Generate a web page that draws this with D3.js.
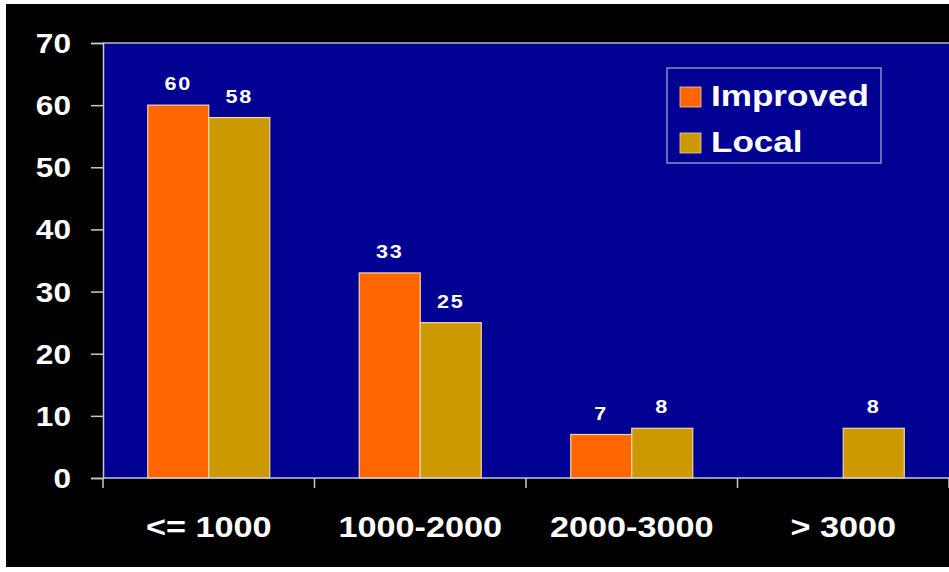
<!DOCTYPE html>
<html>
<head>
<meta charset="utf-8">
<script src="https://cdn.jsdelivr.net/npm/d3@7"></script>
<style>
  html, body { margin: 0; padding: 0; background: #ffffff; }
  svg { display: block; }
  text { font-family: "Liberation Sans", Arial, sans-serif; font-weight: bold; fill: #ffffff; }
</style>
</head>
<body>
<svg id="chart" width="949" height="572"></svg>
<script>
// Distance bands and the share (%) of each variety in them
const categories = ["<= 1000", "1000-2000", "2000-3000", "> 3000"];
const improved = [60, 33, 7, null];
const local = [58, 25, 8, 8];
const seriesNames = ["Improved", "Local"];
const seriesColors = ["#ff6600", "#cc9900"];
const yTicks = [0, 10, 20, 30, 40, 50, 60, 70];

const svg = d3.select("#chart");
const W = 949, H = 572;

// wide lettering: glyphs drawn at a horizontal stretch
function wideText(parent, px, py, str, size, stretch, anchor) {
  return parent.append("text")
    .attr("transform", `translate(${px},${py}) scale(${stretch},1)`)
    .attr("text-anchor", anchor || "start")
    .attr("font-size", size)
    .text(str);
}

// dark backdrop inside a thin white frame
svg.append("rect").attr("x", 0).attr("y", 0).attr("width", W).attr("height", H).attr("fill", "#ffffff");
svg.append("rect").attr("x", 6).attr("y", 4).attr("width", W - 6).attr("height", 563).attr("fill", "#000000");

const plot = { left: 103, right: 949, top: 43, bottom: 478 };

const x = d3.scaleBand().domain(categories).range([plot.left, plot.right]).paddingInner(0).paddingOuter(0);
const y = d3.scaleLinear().domain([0, 70]).range([plot.bottom, plot.top]);

// plot area
svg.append("rect")
  .attr("x", plot.left).attr("y", plot.top)
  .attr("width", plot.right - plot.left).attr("height", plot.bottom - plot.top)
  .attr("fill", "#000093");
svg.append("line")
  .attr("x1", plot.left).attr("x2", plot.right).attr("y1", plot.top).attr("y2", plot.top)
  .attr("stroke", "#b8b8c8").attr("stroke-width", 1.5);

// bars
const barW = 61;
const rows = categories.map((c, i) => ({ cat: c, vals: [improved[i], local[i]] }));
const g = svg.append("g");
rows.forEach(r => {
  const cx = x(r.cat) + x.bandwidth() / 2;
  r.vals.forEach((v, k) => {
    if (v == null) return;
    const bx = cx - barW + k * barW;
    g.append("rect")
      .attr("x", bx).attr("y", y(v))
      .attr("width", barW).attr("height", y(0) - y(v))
      .attr("fill", seriesColors[k])
      .attr("stroke", "#f2d8b0").attr("stroke-width", 1.2);
    wideText(g, bx + barW / 2, y(v) - 15, v, 18, 1.2, "middle").attr("letter-spacing", 1.5);
  });
});

// y axis
const yAxis = d3.axisLeft(y).tickValues(yTicks).tickSize(12).tickFormat("");
const ya = svg.append("g").attr("transform", `translate(${plot.left},0)`).call(yAxis);
ya.select(".domain").attr("stroke", "#c8c8d0").attr("stroke-width", 1.5);
ya.selectAll(".tick line").attr("stroke", "#c8c8d0").attr("stroke-width", 1.5);
yTicks.forEach(t => wideText(svg, 71, y(t) + 10, t, 28, 1.13, "end"));

// x axis: ticks on band boundaries, labels centred under each band
const xa = svg.append("g").attr("transform", `translate(0,${plot.bottom})`);
xa.append("line").attr("x1", plot.left).attr("x2", plot.right).attr("y1", 0).attr("y2", 0)
  .attr("stroke", "#c8c8d0").attr("stroke-width", 1.5);
const bounds = categories.map(c => x(c)).concat([plot.right]);
xa.selectAll("line.tk").data(bounds).join("line").attr("class", "tk")
  .attr("x1", d => d).attr("x2", d => d).attr("y1", 0).attr("y2", 10)
  .attr("stroke", "#c8c8d0").attr("stroke-width", 1.5);
categories.forEach(c => wideText(xa, x(c) + x.bandwidth() / 2, 59, c, 29, 1.18, "middle"));

// legend
const lg = svg.append("g");
lg.append("rect").attr("x", 667).attr("y", 68).attr("width", 214).attr("height", 95)
  .attr("fill", "none").attr("stroke", "#8c8cc0").attr("stroke-width", 1.5);
seriesNames.forEach((s, i) => {
  const top = 87 + i * 46;
  lg.append("rect").attr("x", 680).attr("y", top).attr("width", 21).attr("height", 20)
    .attr("fill", seriesColors[i]).attr("stroke", "#e8d0b0").attr("stroke-width", 0.8);
  wideText(lg, 711, top + 19, s, 30, 1.17, "start");
});
</script>
</body>
</html>
